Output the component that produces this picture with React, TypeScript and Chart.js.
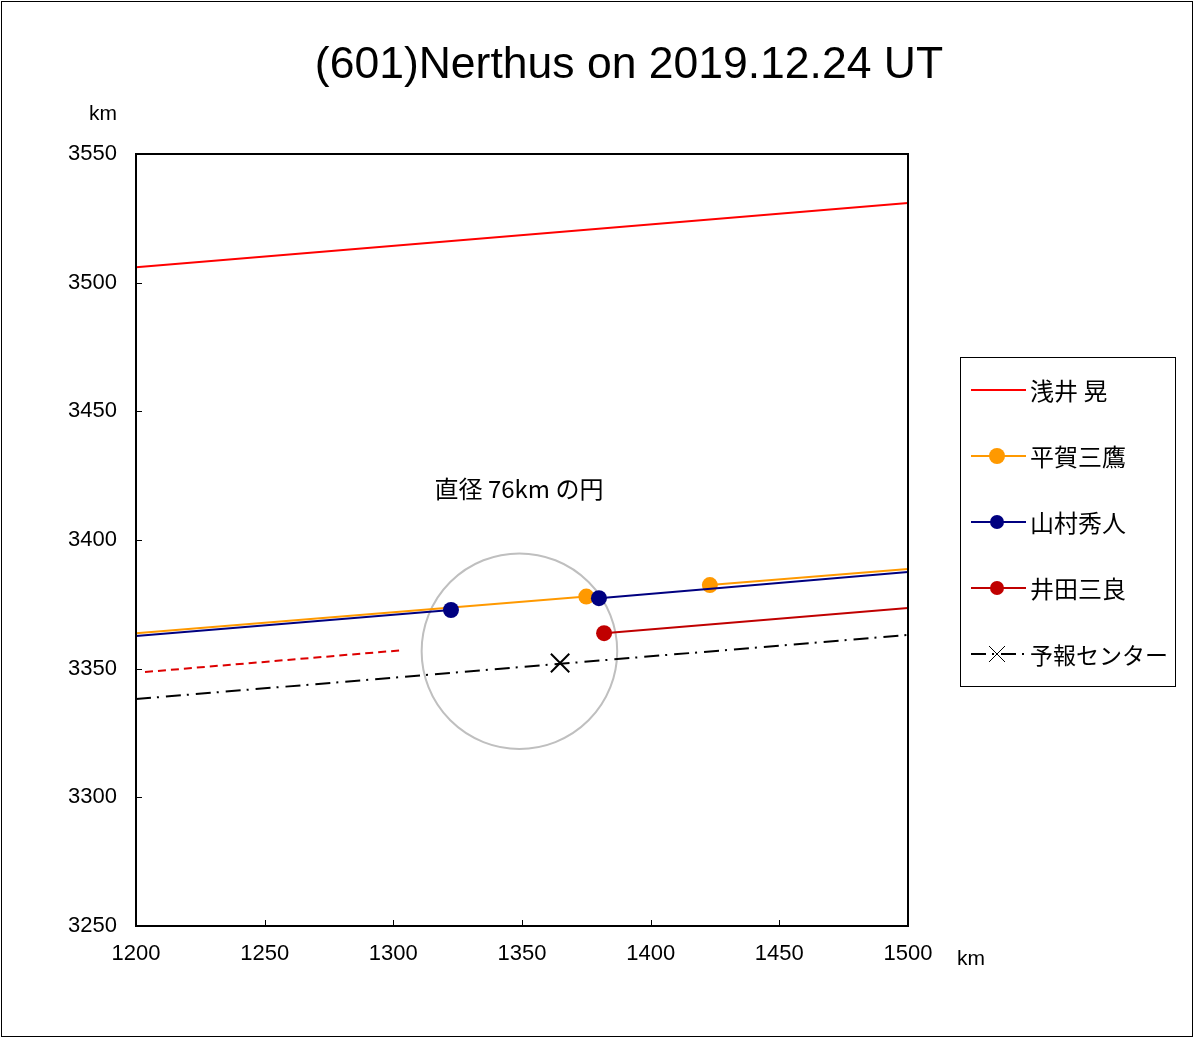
import React, { useEffect, useRef } from "react";
import { Chart, registerables } from "chart.js";

Chart.register(...registerables);

// ---- data (km) ----
const xTicks = [1200, 1250, 1300, 1350, 1400, 1450, 1500];
const yTicks = [3250, 3300, 3350, 3400, 3450, 3500, 3550];

const asaiX = [1200, 1500];
const asaiY = [3506, 3531];

const hiragaX = [1200, 1375, null, 1423, 1500];
const hiragaY = [3363.8, 3378, null, 3382.5, 3388.7];
const hiragaDots = [false, true, false, true, false];

const yamamuraX = [1200, 1322.4, null, 1379.9, 1500];
const yamamuraY = [3362.7, 3372.8, null, 3377.4, 3387.6];
const yamamuraDots = [false, true, false, true, false];

const idaX = [1381.9, 1500];
const idaY = [3363.8, 3373.6];
const idaDots = [true, false];

const idaDashX = [1203.5, 1303.8];
const idaDashY = [3348.7, 3357.2];

const predX = [1200, 1500];
const predY = [3338.2, 3363.1];
const predCenterX = [1364.8];
const predCenterY = [3352.2];

const circleCenter = [1349, 3356.8];
const circleDiameter = 76;

const legendNames = ["浅井 晃", "平賀三鷹", "山村秀人", "井田三良", "予報センター"];
const titleText = "(601)Nerthus on 2019.12.24 UT";
const circleLabel = "直径 76km の円";

const RED = "#ff0000";
const ORANGE = "#ff9900";
const NAVY = "#000080";
const DARKRED = "#c00000";
const DASHRED = "#dd0000";

const pts = (xs: (number | null)[], ys: (number | null)[]) =>
  xs.map((x, i) => ({ x: x === null ? NaN : x, y: ys[i] === null ? NaN : (ys[i] as number) }));

const CJK = '"Noto Sans CJK JP", "Liberation Sans", sans-serif';
const LAT = '"Liberation Sans", Arial, sans-serif';

const overlay = {
  id: "overlay",
  beforeDatasetsDraw(chart: any) {
    const { ctx, scales } = chart;
    const xs = scales.x;
    const ys = scales.y;
    const cx = xs.getPixelForValue(circleCenter[0]);
    const cy = ys.getPixelForValue(circleCenter[1]);
    const r = Math.abs(xs.getPixelForValue(circleCenter[0] + circleDiameter / 2) - cx);
    ctx.save();
    ctx.strokeStyle = "#bfbfbf";
    ctx.lineWidth = 2;
    ctx.beginPath();
    ctx.arc(cx, cy, r, 0, Math.PI * 2);
    ctx.stroke();
    ctx.restore();
  },
  afterDraw(chart: any) {
    const { ctx, chartArea: a, scales } = chart;
    const xs = scales.x;
    const ys = scales.y;
    ctx.save();
    // plot frame
    ctx.strokeStyle = "#000";
    ctx.lineWidth = 2;
    ctx.strokeRect(a.left, a.top, a.right - a.left, a.bottom - a.top);
    // inward ticks
    ctx.lineWidth = 1;
    ctx.beginPath();
    for (const v of xTicks) {
      const px = Math.round(xs.getPixelForValue(v)) + 0.5;
      ctx.moveTo(px, a.bottom);
      ctx.lineTo(px, a.bottom - 6);
    }
    for (const v of yTicks) {
      const py = Math.round(ys.getPixelForValue(v)) + 0.5;
      ctx.moveTo(a.left, py);
      ctx.lineTo(a.left + 6, py);
    }
    ctx.stroke();

    // outer border
    ctx.lineWidth = 1;
    ctx.strokeRect(1.5, 1.5, 1191, 1035);

    // title
    ctx.fillStyle = "#000";
    ctx.textAlign = "center";
    ctx.textBaseline = "middle";
    ctx.font = `44.5px ${LAT}`;
    ctx.fillText(titleText, 629, 66);

    // axis unit labels
    ctx.font = `21px ${LAT}`;
    ctx.fillText("km", 103, 114);
    ctx.fillText("km", 971, 959);

    // circle label
    ctx.font = `24px ${CJK}`;
    ctx.fillText(circleLabel, 519, 489);

    // legend
    ctx.lineWidth = 1;
    ctx.strokeRect(960.5, 357.5, 215, 329);
    const colors = [RED, ORANGE, NAVY, DARKRED, "#000"];
    legendNames.forEach((name, i) => {
      const y = 390 + i * 66;
      ctx.save();
      ctx.strokeStyle = colors[i];
      ctx.lineWidth = 2;
      if (i === 4) ctx.setLineDash([15, 6, 2, 7]);
      ctx.beginPath();
      ctx.moveTo(971, y);
      ctx.lineTo(1026, y);
      ctx.stroke();
      ctx.setLineDash([]);
      if (i === 1 || i === 2 || i === 3) {
        ctx.fillStyle = colors[i];
        ctx.beginPath();
        ctx.arc(997, y, i === 1 ? 8 : 7, 0, Math.PI * 2);
        ctx.fill();
      }
      if (i === 4) {
        ctx.lineWidth = 1;
        ctx.beginPath();
        ctx.moveTo(989, y - 8);
        ctx.lineTo(1005, y + 8);
        ctx.moveTo(1005, y - 8);
        ctx.lineTo(989, y + 8);
        ctx.stroke();
      }
      ctx.restore();
      ctx.fillStyle = "#000";
      ctx.textAlign = "left";
      ctx.textBaseline = "middle";
      ctx.font = `${i === 4 ? 23 : 24}px ${CJK}`;
      ctx.fillText(name, 1030, y + 1);
    });
    ctx.restore();
  },
};

export default function App() {
  const ref = useRef<HTMLCanvasElement>(null);
  useEffect(() => {
    document.body.style.margin = "0";
    const chart = new Chart(ref.current as HTMLCanvasElement, {
      type: "scatter",
      data: {
        datasets: [
          {
            label: legendNames[2],
            data: pts(yamamuraX, yamamuraY),
            showLine: true,
            spanGaps: false,
            borderColor: NAVY,
            backgroundColor: NAVY,
            borderWidth: 2,
            pointRadius: yamamuraDots.map((d) => (d ? 8 : 0)),
            pointBorderWidth: 0,
          },
          {
            label: legendNames[1],
            data: pts(hiragaX, hiragaY),
            showLine: true,
            spanGaps: false,
            borderColor: ORANGE,
            backgroundColor: ORANGE,
            borderWidth: 2,
            pointRadius: hiragaDots.map((d) => (d ? 8 : 0)),
            pointBorderWidth: 0,
          },
          {
            label: legendNames[3],
            data: pts(idaX, idaY),
            showLine: true,
            borderColor: DARKRED,
            backgroundColor: DARKRED,
            borderWidth: 2,
            pointRadius: idaDots.map((d) => (d ? 8 : 0)),
            pointBorderWidth: 0,
          },
          {
            label: legendNames[3] + " (dash)",
            data: pts(idaDashX, idaDashY),
            showLine: true,
            borderColor: DASHRED,
            borderWidth: 2,
            borderDash: [8, 5],
            pointRadius: 0,
          },
          {
            label: legendNames[0],
            data: pts(asaiX, asaiY),
            showLine: true,
            borderColor: RED,
            borderWidth: 2,
            pointRadius: 0,
          },
          {
            label: legendNames[4] + " marker",
            data: pts(predCenterX, predCenterY),
            showLine: false,
            pointStyle: "crossRot",
            pointRadius: 13,
            borderColor: "#000",
            pointBorderWidth: 2,
          },
          {
            label: legendNames[4],
            data: pts(predX, predY),
            showLine: true,
            borderColor: "#000",
            borderWidth: 2,
            borderDash: [15, 6, 2, 7],
            pointRadius: 0,
          },
        ],
      },
      options: {
        animation: false,
        responsive: false,
        devicePixelRatio: 1,
        events: [],
        layout: { padding: { left: 0, top: 154, right: 286, bottom: 0 } },
        plugins: {
          legend: { display: false },
          title: { display: false },
          tooltip: { enabled: false },
        },
        scales: {
          x: {
            type: "linear",
            min: 1200,
            max: 1500,
            afterBuildTicks: (s: any) => {
              s.ticks = xTicks.map((v) => ({ value: v }));
            },
            afterFit: (s: any) => {
              s.height = 112;
            },
            grid: { display: false, drawTicks: false },
            border: { display: false },
            ticks: {
              color: "#000",
              padding: 15,
              maxRotation: 0,
              font: { family: LAT, size: 22 },
              callback: (v: any) => String(v),
            },
          },
          y: {
            type: "linear",
            min: 3250,
            max: 3550,
            afterBuildTicks: (s: any) => {
              s.ticks = yTicks.map((v) => ({ value: v }));
            },
            afterFit: (s: any) => {
              s.width = 136;
            },
            grid: { display: false, drawTicks: false },
            border: { display: false },
            ticks: {
              color: "#000",
              padding: 19,
              font: { family: LAT, size: 22 },
              callback: (v: any) => String(v),
            },
          },
        },
      },
      plugins: [overlay],
    } as any);
    return () => chart.destroy();
  }, []);
  return (
    <div style={{ position: "absolute", left: 0, top: 0, width: 1194, height: 1038, background: "#fff" }}>
      <canvas ref={ref} width={1194} height={1038} />
    </div>
  );
}
